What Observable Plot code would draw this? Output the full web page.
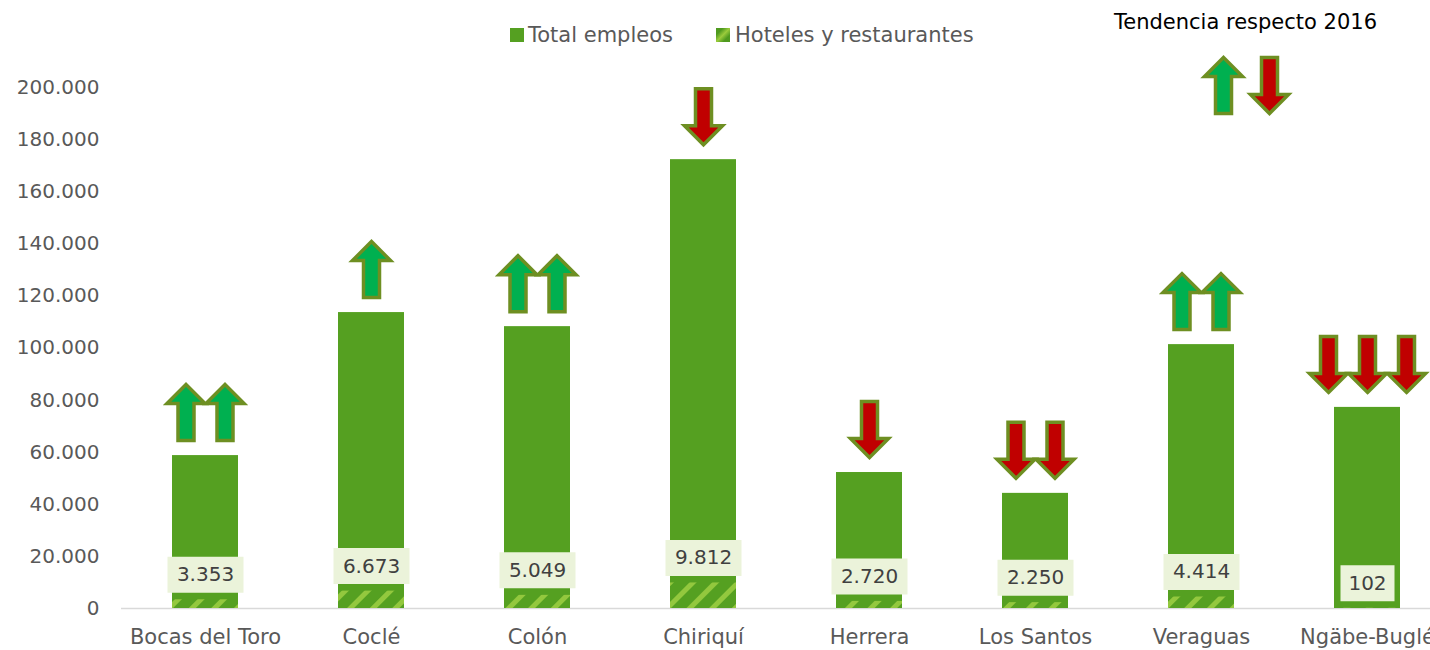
<!DOCTYPE html>
<html><head><meta charset="utf-8">
<script src="https://cdn.jsdelivr.net/npm/d3@7"></script>
<script src="https://cdn.jsdelivr.net/npm/@observablehq/plot@0.6"></script>
<style>
html,body{margin:0;padding:0;background:#fff;overflow:hidden;}
body{font-family:"DejaVu Sans",sans-serif;width:1430px;height:650px;position:relative;}
#header{position:relative;height:50px;}
.t{position:absolute;white-space:nowrap;line-height:24px;font-size:21px;}
.sw{position:absolute;width:14px;height:14px;}
#chart svg{display:block;max-width:none;}
</style></head><body>
<div id="header">
  <div class="t" style="left:1114px;top:10px;color:#000">Tendencia respecto 2016</div>
  <div class="sw" style="left:510px;top:28px;background:#55a021"></div>
  <div class="t" style="left:528px;top:23px;color:#595959">Total empleos</div>
  <div class="sw" style="left:716px;top:28px;background:linear-gradient(135deg,#4f9a1f 25%,#9acb3c 50%,#4f9a1f 75%)"></div>
  <div class="t" style="left:735px;top:23px;color:#595959">Hoteles y restaurantes</div>
</div>
<div id="chart"></div>
<script>
const categories = ["Bocas del Toro","Coclé","Colón","Chiriquí","Herrera","Los Santos","Veraguas","Ngäbe-Buglé"];
const totals = [58700, 113600, 108200, 172300, 52200, 44200, 101300, 77200];
const hoteles = [3353, 6673, 5049, 9812, 2720, 2250, 4414, 102];
const trends = [["up","up"],["up"],["up","up"],["down"],["down"],["down","down"],["up","up"],["down","down","down"]];
const yTicks = [0,20000,40000,60000,80000,100000,120000,140000,160000,180000,200000];
const legendArrows = ["up","down"];

const fmt = d3.formatLocale({decimal:",", thousands:".", grouping:[3], currency:["",""]}).format(",d");
const data = categories.map((c,i)=>({region:c,total:totals[i],hoteles:hoteles[i]}));
const arrows = [];
categories.forEach((c,i)=>{
  const n = trends[i].length;
  trends[i].forEach((dir,k)=>arrows.push({region:c,total:totals[i],dir,off:k-(n-1)/2}));
});

const upArrow = {draw(ctx){ctx.moveTo(0,-28);ctx.lineTo(19,-9);ctx.lineTo(8,-9);ctx.lineTo(8,28);ctx.lineTo(-8,28);ctx.lineTo(-8,-9);ctx.lineTo(-19,-9);ctx.closePath();}};
const downArrow = {draw(ctx){ctx.moveTo(0,28);ctx.lineTo(19,9);ctx.lineTo(8,9);ctx.lineTo(8,-28);ctx.lineTo(-8,-28);ctx.lineTo(-8,9);ctx.lineTo(-19,9);ctx.closePath();}};
const box = (w,h)=>({draw(ctx){ctx.moveTo(-w/2,-h/2);ctx.lineTo(w/2,-h/2);ctx.lineTo(w/2,h/2);ctx.lineTo(-w/2,h/2);ctx.closePath();}});
const arrowStyle = dir => ({symbol: dir==="up"?upArrow:downArrow, fill: dir==="up"?"#00b050":"#c00000", stroke:"#6e8f22", strokeWidth:3.5});

const arrowMarks = [];
const offs = [...new Set(arrows.map(a=>a.off))];
for (const off of offs) for (const dir of ["up","down"]) {
  const sub = arrows.filter(a=>a.off===off && a.dir===dir);
  if (sub.length) arrowMarks.push(Plot.dot(sub,{x:"region",y:"total",dx:off*39,dy:-43,r:20,...arrowStyle(dir)}));
}
legendArrows.forEach((dir,i)=>{
  arrowMarks.push(Plot.dot([{region:"Veraguas",v:yTicks[yTicks.length-1]}],{x:"region",y:"v",dx:22+i*46,dy:-2,r:20,...arrowStyle(dir)}));
});

const plot = Plot.plot({
  width: 1451, height: 600, marginLeft: 121, marginRight: 0, marginTop: 37, marginBottom: 42,
  style: {fontFamily: "DejaVu Sans", fontSize: "20px", color: "#595959", background: "transparent", overflow: "visible"},
  x: {domain: categories, paddingInner: 0.6, paddingOuter: 0.3, label: null},
  y: {domain: [0, 200000], label: null},
  marks: [
    Plot.axisY({ticks: yTicks, tickFormat: fmt, tickSize: 0, tickPadding: 22, fontSize: 20, label: null}),
    Plot.axisX({tickSize: 0, tickPadding: 21, fontSize: 21, label: null}),
    Plot.ruleY([0], {stroke: "#d9d9d9", strokeWidth: 1.5}),
    Plot.barY(data, {x:"region", y:"total", fill:"#55a021"}),
    Plot.barY(data, {x:"region", y:"hoteles", fill:"url(#hatch)"}),
    Plot.dot(data.filter(d=>fmt(d.hoteles).length>=5), {x:"region", y:"hoteles", dy:-25, r:20, symbol: box(76,36), fill:"#ebf3da"}),
    Plot.dot(data.filter(d=>fmt(d.hoteles).length<5), {x:"region", y:"hoteles", dy:-25, r:20, symbol: box(54,36), fill:"#ebf3da"}),
    Plot.text(data, {x:"region", y:"hoteles", dy:-25, text: d=>fmt(d.hoteles), fill:"#404040", fontSize:20}),
    ...arrowMarks
  ]
});
const defs = d3.select(plot).insert("defs", ":first-child");
const p = defs.append("pattern").attr("id","hatch").attr("patternUnits","userSpaceOnUse").attr("width",16).attr("height",16).attr("patternTransform","rotate(45)");
p.append("rect").attr("width",16).attr("height",16).attr("fill","#55a021");
p.append("rect").attr("width",5).attr("height",16).attr("fill","#93c83e");
document.getElementById("chart").appendChild(plot);
</script>
</body></html>
